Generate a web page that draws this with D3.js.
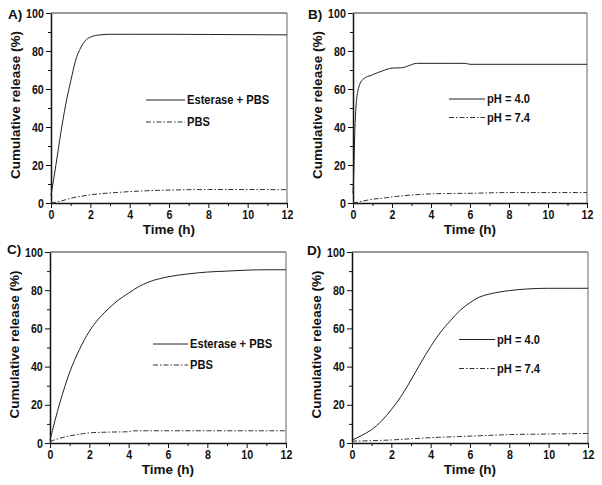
<!DOCTYPE html>
<html>
<head>
<meta charset="utf-8">
<script src="https://cdn.jsdelivr.net/npm/d3@7"></script>
<style>
  html, body { margin: 0; padding: 0; background: #fff; }
  svg { display: block; }
  text { font-family: "Liberation Sans", Arial, sans-serif; font-weight: bold; fill: #111; }
</style>
</head>
<body>
<svg id="chart" width="602" height="485"></svg>
<script>
// ---------- DATA ----------
const xMajorTicks = [0, 2, 4, 6, 8, 10, 12];
const xMinorTicks = [1, 3, 5, 7, 9, 11];
const yMajorTicks = [0, 20, 40, 60, 80, 100];
const yMinorTicks = [10, 30, 50, 70, 90];

// Panel A
const timeA1 = [0, 0.25, 0.5, 0.75, 1, 1.25, 1.5, 1.75, 2, 2.5, 3, 4, 6, 8, 12];
const relA1  = [4, 20, 37, 52, 64, 75, 81.5, 85.5, 87.3, 88.5, 88.8, 88.8, 88.8, 88.7, 88.5];
const timeA2 = [0, 0.5, 1, 1.5, 2, 3, 4, 5, 6, 8, 10, 12];
const relA2  = [0, 1, 2.5, 3.5, 4.3, 5.3, 6, 6.5, 6.8, 7.1, 7.1, 7.0];
// Panel B
const timeB1 = [0, 0.05, 0.1, 0.25, 0.5, 1, 1.5, 2, 2.5, 3, 3.25, 4, 5, 5.75, 6, 8, 12];
const relB1  = [5, 20, 40, 59, 65, 67.5, 69.5, 71, 71.2, 72.8, 73.5, 73.5, 73.5, 73.5, 73, 73, 73];
const timeB2 = [0, 0.5, 1, 1.5, 2, 3, 4, 5, 6, 8, 10, 12];
const relB2  = [0, 1, 2, 2.5, 3.2, 4.2, 4.8, 5, 5.1, 5.5, 5.5, 5.5];
// Panel C
const timeC1 = [0, 0.5, 1, 1.5, 2, 2.5, 3, 3.5, 4, 4.5, 5, 6, 7, 8, 9, 10, 11, 12];
const relC1  = [1.5, 21, 37, 49, 58.5, 65.3, 70.6, 75, 78.5, 81.8, 84.2, 87, 88.5, 89.5, 90, 90.5, 90.7, 90.7];
const timeC2 = [0, 0.5, 1, 1.5, 2, 3, 4, 4.25, 6, 8, 10, 12];
const relC2  = [0.8, 2.5, 3.7, 4.6, 5.3, 5.7, 5.9, 6.4, 6.4, 6.4, 6.4, 6.4];
// Panel D
const timeD1 = [0, 0.5, 1, 1.5, 2, 2.5, 3, 3.5, 4, 4.5, 5, 5.5, 6, 6.5, 7, 8, 9, 10, 11, 12];
const relD1  = [1.5, 4, 7, 11.5, 17.5, 24.5, 33, 42, 50.5, 58, 64, 69.5, 73.5, 76.5, 78, 79.8, 80.7, 81, 81, 81];
const timeD2 = [0, 1, 2, 3, 4, 5, 6, 7, 8, 10, 12];
const relD2  = [1, 1.2, 1.6, 2.2, 2.8, 3.2, 3.6, 4, 4.4, 4.7, 5];

const panelLabels = ["A)", "B)", "C)", "D)"];
const legendA = ["Esterase + PBS", "PBS"];
const legendB = ["pH = 4.0", "pH = 7.4"];
const xTitle = "Time (h)";
const yTitle = "Cumulative release (%)";

// ---------- LAYOUT ----------
const panels = [
  { l: 51, r: 287, t: 13, b: 203, lab: [8, 18.5], leg: [146, 185, 100, 122], names: legendA,
    s1: [timeA1, relA1], s2: [timeA2, relA2], label: panelLabels[0] },
  { l: 353, r: 587, t: 13, b: 203, lab: [308, 18.5], leg: [449, 485, 99, 117.5], names: legendB,
    s1: [timeB1, relB1], s2: [timeB2, relB2], label: panelLabels[1] },
  { l: 50, r: 286, t: 252, b: 443, lab: [7, 254], leg: [153, 188, 344, 365], names: legendA,
    s1: [timeC1, relC1], s2: [timeC2, relC2], label: panelLabels[2] },
  { l: 352, r: 588, t: 252, b: 443, lab: [307, 255], leg: [459, 495, 339.5, 368.5], names: legendB,
    s1: [timeD1, relD1], s2: [timeD2, relD2], label: panelLabels[3] }
];

const svg = d3.select("#chart");
const dashPattern = "5,2,1.5,2";
const tickSqueeze = 0.85;

panels.forEach(p => {
  const x = d3.scaleLinear().domain([0, 12]).range([p.l, p.r]);
  const y = d3.scaleLinear().domain([0, 100]).range([p.b, p.t]);
  const g = svg.append("g");

  // frame top/right
  g.append("line").attr("x1", p.l).attr("x2", p.r).attr("y1", p.t).attr("y2", p.t)
    .attr("stroke", "#333").attr("stroke-width", 1);
  g.append("line").attr("x1", p.r).attr("x2", p.r).attr("y1", p.t).attr("y2", p.b)
    .attr("stroke", "#666").attr("stroke-width", 1);

  // minor ticks
  g.append("g").attr("transform", `translate(0,${p.b})`)
    .call(d3.axisBottom(x).tickValues(xMinorTicks).tickSize(3).tickFormat(""))
    .call(a => a.select(".domain").remove());
  g.append("g").attr("transform", `translate(${p.l},0)`)
    .call(d3.axisLeft(y).tickValues(yMinorTicks).tickSize(3).tickFormat(""))
    .call(a => a.select(".domain").remove());

  // major axes
  const xa = g.append("g").attr("transform", `translate(0,${p.b})`)
    .call(d3.axisBottom(x).tickValues(xMajorTicks).tickSize(5).tickSizeOuter(0).tickPadding(2).tickFormat(d3.format("d")));
  const ya = g.append("g").attr("transform", `translate(${p.l},0)`)
    .call(d3.axisLeft(y).tickValues(yMajorTicks).tickSize(5).tickSizeOuter(0).tickPadding(3.5).tickFormat(d3.format("d")));
  [xa, ya].forEach(a => {
    a.select(".domain").attr("stroke", "#111").attr("stroke-width", 1.5);
    a.selectAll(".tick text").attr("font-family", "Liberation Sans, Arial, sans-serif")
      .attr("font-weight", "bold").attr("font-size", 12.5).attr("fill", "#111")
      .attr("transform", `scale(${tickSqueeze},1)`);
  });
  g.selectAll(".tick line").attr("stroke", "#111");

  // axis titles
  g.append("text").attr("x", (p.l + p.r) / 2).attr("y", p.b + 31)
    .attr("text-anchor", "middle").attr("font-size", 13.5).text(xTitle);
  g.append("text")
    .attr("transform", `translate(${p.l - 36},${(p.t + p.b) / 2 - 3}) rotate(-90)`)
    .attr("text-anchor", "middle").attr("dy", "0.35em").attr("font-size", 13.5).text(yTitle);

  // panel label
  g.append("text").attr("x", p.lab[0]).attr("y", p.lab[1]).attr("font-size", 13.5).text(p.label);

  // series
  const line = d3.line().curve(d3.curveMonotoneX).x(d => x(d[0])).y(d => y(d[1]));
  const d1 = p.s1[0].map((t, i) => [t, p.s1[1][i]]);
  const d2 = p.s2[0].map((t, i) => [t, p.s2[1][i]]);
  g.append("path").datum(d1).attr("d", line).attr("fill", "none")
    .attr("stroke", "#222").attr("stroke-width", 1);
  g.append("path").datum(d2).attr("d", line).attr("fill", "none")
    .attr("stroke", "#333").attr("stroke-width", 1).attr("stroke-dasharray", dashPattern);

  // legend
  const [lx1, lx2, ly1, ly2] = p.leg;
  g.append("line").attr("x1", lx1).attr("x2", lx2).attr("y1", ly1).attr("y2", ly1)
    .attr("stroke", "#222").attr("stroke-width", 1);
  g.append("line").attr("x1", lx1).attr("x2", lx2).attr("y1", ly2).attr("y2", ly2)
    .attr("stroke", "#333").attr("stroke-width", 1).attr("stroke-dasharray", dashPattern);
  [[ly1, p.names[0]], [ly2, p.names[1]]].forEach(([yy, name]) => {
    g.append("text")
      .attr("transform", `translate(${lx2 + 2},${yy}) scale(0.93,1)`)
      .attr("dy", "0.36em").attr("font-size", 12).text(name);
  });
});
</script>
</body>
</html>
